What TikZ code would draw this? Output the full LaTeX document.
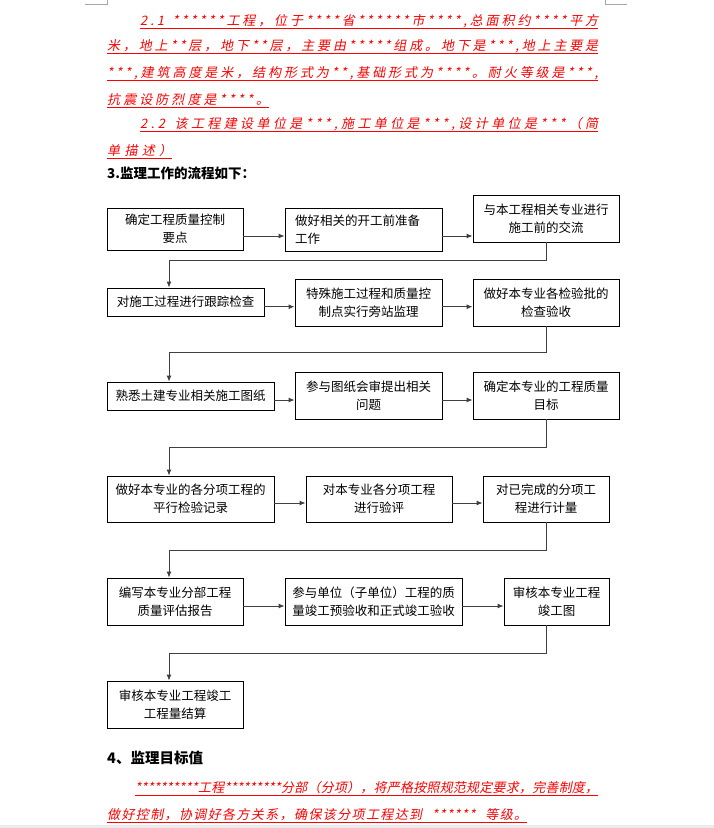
\documentclass[tikz,border=0pt]{standalone}
\usepackage{fontspec}
\usepackage{xcolor}
\usetikzlibrary{positioning, arrows.meta}
\newfontfamily\cjk{Noto Sans CJK SC}
\newfontfamily\cjkred[FakeSlant=0.2]{Noto Sans CJK SC}
\definecolor{linkgray}{HTML}{404040}

% spread a red line over a given width
\newcommand\spreadtext[2]{\makebox[#1][s]{\spreadfirst#2\relax}}
\def\spreadfirst#1{#1\spreadaux}
\def\spreadaux#1{\ifx#1\relax\else\hfil#1\expandafter\spreadaux\fi}

\begin{document}
\begin{tikzpicture}[
  x=1pt, y=-1pt,
  box/.style={rectangle, draw, line width=0.9pt, inner sep=0pt, align=center,
    font=\cjk\fontsize{12.5}{18}\selectfont},
  link/.style={draw=linkgray, line width=0.9pt, -{Latex[length=6pt,width=5pt]}},
  redline/.style={font=\cjkred\fontsize{13}{13}\selectfont, text=red, inner sep=0pt, anchor=base west},
  uline/.style={red, line width=0.9pt},
  head/.style={font=\cjk\bfseries\fontsize{13.5}{14}\selectfont, inner sep=0pt, anchor=west}
]
  \useasboundingbox (0,0) rectangle (714,828);

  % page corner marks
  \draw[black!35] (85,4) -- (107,4) -- (107,0);
  \draw[black!35] (605,0) -- (605,4) -- (627,4);
  \fill[black!8] (0,825) rectangle (714,828);

  % Red text above
  \node[redline] (l1) at (140,25) {\spreadtext{458pt}{2.1~******工程，位于****省******市****,总面积约****平方}};
  \node[redline] (l2) at (107,50) {\spreadtext{491pt}{米，地上**层，地下**层，主要由*****组成。地下是***,地上主要是}};
  \node[redline] (l3) at (107,77) {\spreadtext{491pt}{***,建筑高度是米，结构形式为**,基础形式为****。耐火等级是***,}};
  \node[redline] (l4) at (107,104) {\spreadtext{162pt}{抗震设防烈度是****。}};
  \node[redline] (l5) at (140,128.5) {\spreadtext{458pt}{2.2~该工程建设单位是***,施工单位是***,设计单位是***（简}};
  \node[redline] (l6) at (107,155) {\spreadtext{65pt}{单描述）}};
  \foreach \l in {l1,l2,l3,l4,l5,l6}
    \draw[uline] ([yshift=-3.3pt]\l.base west) -- ([yshift=-3.3pt]\l.base east);

  \node[head] (h3) at (107,173) {3.监理工作的流程如下：};

  % Row 1
  \node[box, minimum width=136pt, minimum height=42pt] (a) at (175,229) {确定工程质量控制\\要点};
  \node[box, minimum width=157pt, minimum height=43pt, text width=137pt, align=left] (b) at (363.5,229.5) {做好相关的开工前准备\\工作};
  \node[box, minimum width=146pt, minimum height=47pt] (c) at (546,218.5) {与本工程相关专业进行\\施工前的交流};

  % Row 2
  \node[box, minimum width=157pt, minimum height=28pt] (d) at (185.5,302) {对施工过程进行跟踪检查};
  \node[box, minimum width=147pt, minimum height=47pt] (e) at (368.5,302.5) {特殊施工过程和质量控\\制点实行旁站监理};
  \node[box, minimum width=146pt, minimum height=47pt] (f) at (546,302.5) {做好本专业各检验批的\\检查验收};

  % Row 3
  \node[box, minimum width=167pt, minimum height=28pt] (g) at (190.5,396) {熟悉土建专业相关施工图纸};
  \node[box, minimum width=147pt, minimum height=47pt] (h) at (368.5,395.5) {参与图纸会审提出相关\\问题};
  \node[box, minimum width=146pt, minimum height=47pt] (i) at (546,395.5) {确定本专业的工程质量\\目标};

  % Row 4
  \node[box, minimum width=167pt, minimum height=46pt] (j) at (190.5,499) {做好本专业的各分项工程的\\平行检验记录};
  \node[box, minimum width=146pt, minimum height=46pt] (k) at (379,499) {对本专业各分项工程\\进行验评};
  \node[box, minimum width=126pt, minimum height=46pt] (l) at (546,499) {对已完成的分项工\\程进行计量};

  % Row 5
  \node[box, minimum width=136pt, minimum height=47pt] (m) at (175,601.5) {编写本专业分部工程\\质量评估报告};
  \node[box, minimum width=177pt, minimum height=47pt] (n) at (373.5,601.5) {参与单位（子单位）工程的质\\量竣工预验收和正式竣工验收};
  \node[box, minimum width=105pt, minimum height=47pt] (o) at (556.5,601.5) {审核本专业工程\\竣工图};

  % Row 6
  \node[box, minimum width=136pt, minimum height=47pt] (p) at (175,704.5) {审核本专业工程竣工\\工程量结算};

  % Arrows along rows
  \coordinate (r1) at (0,236);
  \coordinate (r2) at (0,306.7);
  \coordinate (r3) at (0,400);
  \coordinate (r4) at (0,503);
  \coordinate (r5) at (0,606);
  \draw[link] (a.east |- r1) -- (b.west |- r1);
  \draw[link] (b.east |- r1) -- (c.west |- r1);
  \draw[link] (d.east |- r2) -- (e.west |- r2);
  \draw[link] (e.east |- r2) -- (f.west |- r2);
  \draw[link] (g.east |- r3) -- (h.west |- r3);
  \draw[link] (h.east |- r3) -- (i.west |- r3);
  \draw[link] (j.east |- r4) -- (k.west |- r4);
  \draw[link] (k.east |- r4) -- (l.west |- r4);
  \draw[link] (m.east |- r5) -- (n.west |- r5);
  \draw[link] (n.east |- r5) -- (o.west |- r5);

  % Returns to next row
  \coordinate (t1) at (169,260.7);
  \coordinate (t2) at (169,352);
  \coordinate (t3) at (169,447);
  \coordinate (t4) at (169,550);
  \coordinate (t5) at (169,653);
  \draw[link] (c.south) |- (t1) -- (d.north -| t1);
  \draw[link] (f.south) |- (t2) -- (g.north -| t2);
  \draw[link] (i.south) |- (t3) -- (j.north -| t3);
  \draw[link] (l.south) |- (t4) -- (m.north -| t4);
  \draw[link] (o.south -| l.south) |- (t5) -- (p.north -| t5);

  % Section 4
  \node[head, font=\cjk\bfseries\fontsize{14.5}{15}\selectfont] (h4) at (107,758) {4、监理目标值};
  \node[redline] (l7) at (135,792.5) {\spreadtext{463pt}{**********工程*********分部（分项），将严格按照规范规定要求，完善制度，}};
  \node[redline] (l8) at (107,819.5) {\spreadtext{420pt}{做好控制，协调好各方关系，确保该分项工程达到~~******~~等级。}};
  \foreach \l in {l7,l8}
    \draw[uline] ([yshift=-3.3pt]\l.base west) -- ([yshift=-3.3pt]\l.base east);
\end{tikzpicture}
\end{document}
